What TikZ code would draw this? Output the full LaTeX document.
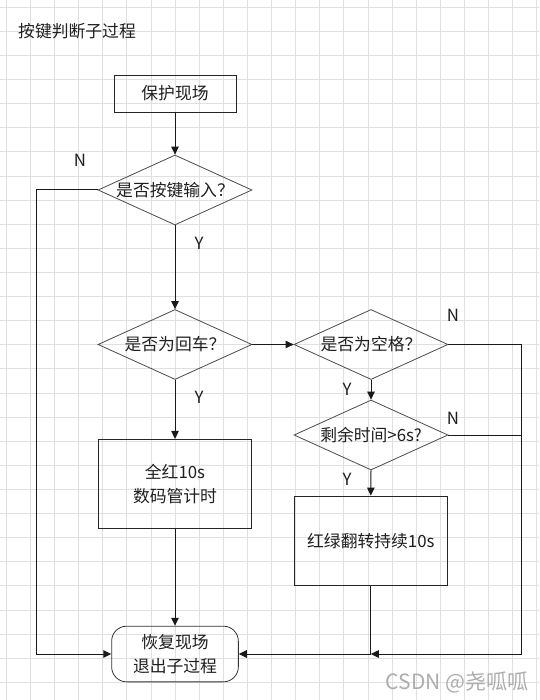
\documentclass[tikz,border=0pt]{standalone}
\usepackage{fontspec}
\setmainfont{Noto Sans CJK SC}
\usetikzlibrary{shapes.geometric,arrows.meta}
\begin{document}
\begin{tikzpicture}[x=1pt,y=-1pt,
  gridline/.style={draw=black!12,line width=0.9pt},
  every node/.style={font=\fontsize{16.8}{24}\selectfont, text=black!88},
  procbox/.style={draw=black!85,line width=0.8pt,rectangle,inner sep=0pt,align=center},
  decision/.style={draw=black!70,line width=0.8pt,diamond,aspect=2.2,inner sep=0pt,minimum width=154pt,minimum height=70pt},
  endbox/.style={draw=black!80,line width=0.8pt,rectangle,rounded corners=15pt,inner sep=0pt,align=center},
  flow/.style={draw=black!90,line width=1pt,-{Triangle[length=8pt,width=7.5pt]}},
  plain/.style={draw=black!90,line width=1pt},
  lbl/.style={inner sep=0pt}
]
\useasboundingbox (0,0) rectangle (539,700);
\fill[white] (0,0) rectangle (539,700);
% grid
\foreach \i in {0,...,22} \draw[gridline] ({6.3+24.11*\i},0) -- ({6.3+24.11*\i},700);
\foreach \j in {0,...,28} \draw[gridline] (0,{7.2+24.11*\j}) -- (539,{7.2+24.11*\j});

% title
\node[lbl,anchor=west] (title) at (18,31) {按键判断子过程};

% nodes
\node[procbox,minimum width=122pt,minimum height=37pt] (protect) at (175,93.5) {保护现场};
\node[decision] (d1) at (175,190) {是否按键输入？};
\node[decision] (d2) at (175,344.5) {是否为回车？};
\node[decision] (d3) at (371,344.5) {是否为空格？};
\node[decision] (d4) at (371,435) {剩余时间>6s?};
\node[procbox,minimum width=153.4pt,minimum height=89pt] (red) at (175,483.8) {全红10s\\数码管计时};
\node[procbox,minimum width=153pt,minimum height=89.3pt] (flip) at (370.8,540.7) {红绿翻转持续10s};
\node[endbox,minimum width=126.7pt,minimum height=55.7pt] (exit) at (175,654) {恢复现场\\退出子过程};

% helper coordinates
\coordinate (lc) at (36,190);
\coordinate (rc) at (521,344.5);
\coordinate (jn) at (370.8,654);

% connectors
\draw[flow] (protect.south) -- (d1.north);
\draw[flow] (d1.south) -- (d2.north);
\draw[flow] (d1.west) -- (lc) |- (exit.west);
\draw[flow] (d2.east) -- (d3.west);
\draw[flow] (d2.south) -- (red.north);
\draw[flow] (red.south) -- (exit.north);
\draw[flow] (d3.south) -- (d4.north);
\draw[flow] (d4.south) -- (flip.north);
\draw[flow] (d3.east) -- (rc) |- (jn);
\draw[plain] (d4.east) -- (d4.east -| rc);
\draw[flow] (flip.south) -- (jn) -- (exit.east);

% labels
\node[lbl] (n1) at (80,160) {N};
\node[lbl] (y1) at (199,243) {Y};
\node[lbl] (y2) at (199,397) {Y};
\node[lbl] (n2) at (453,315) {N};
\node[lbl] (y3) at (347,389) {Y};
\node[lbl] (n3) at (453,418) {N};
\node[lbl] (y4) at (347,479) {Y};

% watermark
\node[lbl,text=black!32,font=\fontsize{21}{24}\selectfont] (wm) at (457,682) {CSDN @尧呱呱};
\end{tikzpicture}
\end{document}
